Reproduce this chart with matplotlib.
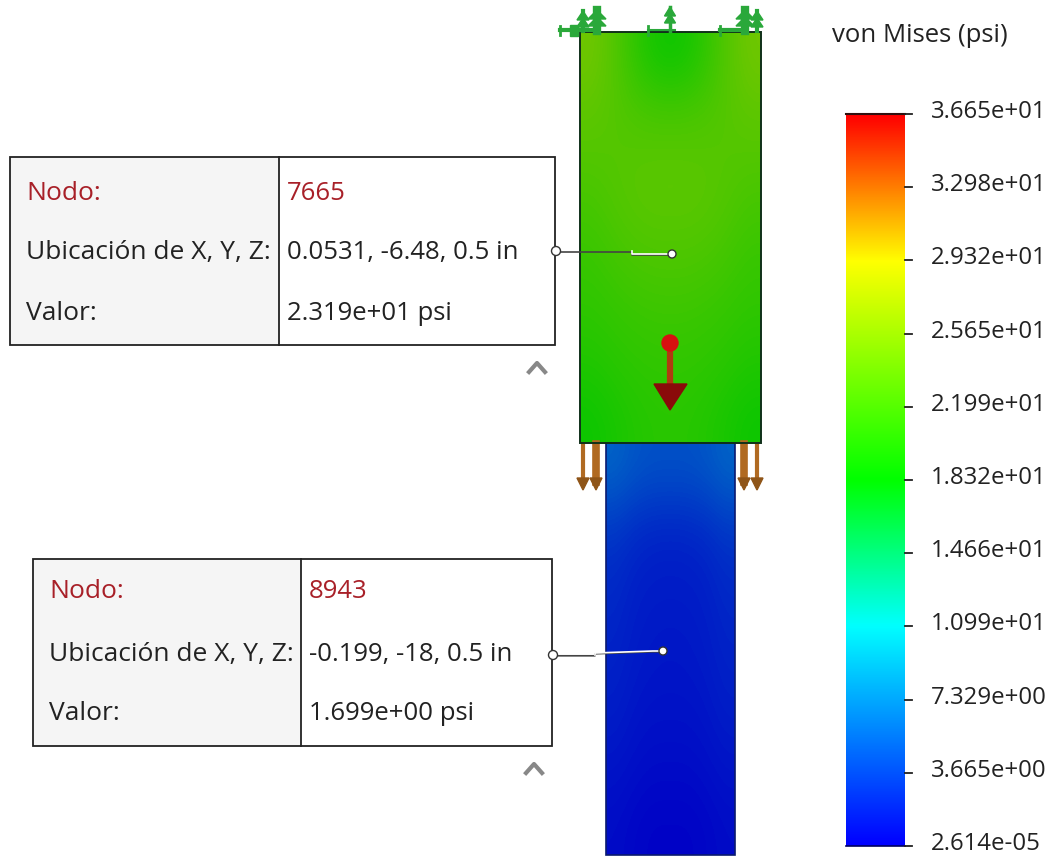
import numpy as np
import matplotlib
matplotlib.use("Agg")
import matplotlib.pyplot as plt
from matplotlib.colors import LinearSegmentedColormap
from matplotlib.patches import Rectangle, Polygon, Circle

plt.rcParams["font.family"] = ["Open Sans", "DejaVu Sans"]

titulo = "von Mises (psi)"
valores_barra = [36.65, 32.98, 29.32, 25.65, 21.99, 18.32, 14.66, 10.99, 7.329, 3.665, 0.00002614]
etiquetas_barra = ["3.665e+01", "3.298e+01", "2.932e+01", "2.565e+01", "2.199e+01", "1.832e+01",
                   "1.466e+01", "1.099e+01", "7.329e+00", "3.665e+00", "2.614e-05"]

# campo de tension (psi)
campo_superior = [
    [24.5, 22.5, 20.0, 18.9, 20.0, 22.5, 24.5],
    [23.5, 22.8, 22.2, 22.0, 22.2, 22.8, 23.5],
    [22.8, 23.0, 23.2, 23.3, 23.2, 23.0, 22.8],
    [22.0, 22.8, 23.2, 23.2, 23.2, 22.8, 22.0],
    [21.3, 22.0, 22.4, 22.5, 22.4, 22.0, 21.3],
    [20.8, 21.2, 21.5, 21.6, 21.5, 21.2, 20.8],
    [20.0, 20.6, 20.9, 21.0, 20.9, 20.6, 20.0],
    [19.0, 19.8, 20.4, 20.6, 20.4, 19.8, 19.0],
]
campo_inferior = [
    [5.5, 4.8, 4.5, 4.5, 4.5, 4.8, 5.5],
    [3.0, 2.4, 2.1, 2.0, 2.1, 2.4, 3.0],
    [2.3, 1.8, 1.6, 1.6, 1.6, 1.8, 2.3],
    [2.0, 1.6, 1.4, 1.3, 1.4, 1.6, 2.0],
    [1.7, 1.3, 1.1, 1.1, 1.1, 1.3, 1.7],
    [1.2, 0.9, 0.7, 0.7, 0.7, 0.9, 1.2],
    [0.7, 0.4, 0.2, 0.2, 0.2, 0.4, 0.7],
]

nodo_1 = ["Nodo:", "7665", "Ubicación de X, Y, Z:", "0.0531, -6.48, 0.5 in", "Valor:", "2.319e+01 psi"]
nodo_2 = ["Nodo:", "8943", "Ubicación de X, Y, Z:", "-0.199, -18, 0.5 in", "Valor:", "1.699e+00 psi"]

fig = plt.figure(figsize=(10.64, 8.59), dpi=100)
ax = fig.add_axes([0, 0, 1, 1])
ax.set_xlim(0, 1064)
ax.set_ylim(859, 0)
ax.axis("off")

cmap = LinearSegmentedColormap.from_list(
    "jet_sw",
    [(0, "#0000ff"), (0.3, "#00ffff"), (0.5, "#00ff00"), (0.8, "#ffff00"), (1, "#ff0000")],
)
# la pieza sale mas oscura que la barra por la luz
tonos = cmap(np.linspace(0, 1, 256))
tonos[:, :3] *= 0.78
cmap_pieza = LinearSegmentedColormap.from_list("jet_sombra", tonos)
vmax = valores_barra[0]

# viga superior e inferior
ax.imshow(campo_superior, cmap=cmap_pieza, vmin=0, vmax=vmax, extent=(580, 761, 443, 32),
          aspect="auto", interpolation="bicubic", zorder=1)
ax.imshow(campo_inferior, cmap=cmap_pieza, vmin=0, vmax=vmax, extent=(606, 735, 855, 443),
          aspect="auto", interpolation="bicubic", zorder=1)
ax.add_patch(Rectangle((580, 32), 181, 411, fill=False, ec="#10301a", lw=1.4, zorder=3))
ax.add_patch(Rectangle((606, 443), 129, 412, fill=False, ec="#0a1a70", lw=1.2, zorder=2))

# restricciones verdes arriba
verde = "#2aa83a"
for x, alto, grueso in [(583, 20, 3), (597, 21, 6), (670, 24, 2.5), (745, 21, 6), (757, 20, 3)]:
    ax.plot([x, x], [31, 31 - alto], color=verde, lw=grueso, zorder=4)
    for d in (3, 10):
        ax.add_patch(Polygon([(x - 3 - grueso, 31 - alto + d + 6), (x + 3 + grueso, 31 - alto + d + 6),
                              (x, 31 - alto + d - 3)], color=verde, zorder=4))
for x0, x1, grueso in [(560, 592, 3), (720, 742, 3), (648, 675, 1.5)]:
    ax.plot([x0, x1], [30, 30], color=verde, lw=grueso, zorder=4)
    ax.plot([x0, x0], [26, 35], color=verde, lw=2, zorder=4)
ax.add_patch(Rectangle((570, 25), 8, 11, color=verde, zorder=4))

# cargas marrones abajo
marron = "#b06a22"
for x, grueso in [(583, 3), (596, 5.5), (744, 5.5), (757, 3)]:
    ax.plot([x, x], [444, 482], color=marron, lw=grueso, zorder=2)
    ax.add_patch(Polygon([(x - 6, 478), (x + 6, 478), (x + 2, 486), (x, 490), (x - 2, 486)],
                         color="#8f5518", zorder=3))

# flecha de la fuerza
ax.plot([670, 670], [345, 385], color="#b03a10", lw=4.5, zorder=4)
ax.add_patch(Polygon([(654, 384), (687, 384), (670, 410)], color="#8a0a0a", zorder=5))
ax.add_patch(Circle((670, 343), 8, color="#d81010", zorder=5))

# barra de color
gradiente = np.linspace(vmax, 0, 256).reshape(-1, 1)
ax.imshow(gradiente, cmap=cmap, vmin=0, vmax=vmax, extent=(846, 905, 846, 114),
          aspect="auto", zorder=1)
ax.plot([846, 905], [114, 114], color="#301010", lw=1.5, zorder=2)
ax.plot([846, 905], [846, 846], color="#000060", lw=1.2, zorder=2)
ax.text(832, 36, titulo, fontsize=18.5, color="#222222", va="center", ha="left")
pos_y = np.linspace(114, 846, len(valores_barra))
for y, t in zip(pos_y, etiquetas_barra):
    ax.plot([905, 912], [y, y], color="#222222", lw=1.3, zorder=2)
    ax.text(931, y - 2, t, fontsize=17.3, color="#222222", va="center", ha="left")


def cuadro(x0, x1, xm, y0, y1, filas, fila_y, linea):
    ax.add_patch(Rectangle((x0, y0), xm - x0, y1 - y0, fc="#f5f5f5", ec="none", zorder=1))
    ax.add_patch(Rectangle((x0, y0), x1 - x0, y1 - y0, fill=False, ec="#222222", lw=1.3, zorder=2))
    ax.plot([xm, xm], [y0, y1], color="#222222", lw=1.3, zorder=2)
    for k, y in enumerate(fila_y):
        col = "#a82028" if k == 0 else "#222222"
        ax.text(x0 + 16, y, filas[2 * k], fontsize=19, color=col, va="center", ha="left")
        ax.text(xm + 8, y, filas[2 * k + 1], fontsize=18.5, color=col, va="center", ha="left")
    # linea de llamada: oscura con brillo blanco encima sobre la pieza
    xs = [p[0] for p in linea]
    ys = [p[1] for p in linea]
    ax.plot(xs, [y + 0.8 for y in ys], color="#444444", lw=1.2, zorder=4)
    ax.plot(xs[1:], ys[1:], color="white", lw=1.2, zorder=5)
    ax.add_patch(Circle(linea[0], 4.5, fc="white", ec="#333333", lw=1, zorder=6))
    ax.add_patch(Circle(linea[-1], 4, fc="white", ec="#333333", lw=1, zorder=6))
    # flechita de plegar
    ax.plot([x1 - 26, x1 - 18, x1 - 10], [y1 + 27, y1 + 18, y1 + 27], color="#888888", lw=3)


cuadro(10, 555, 279, 157, 345, nodo_1, [193, 252, 313],
       [(556, 251), (632, 251), (632, 254), (672, 254)])
cuadro(33, 552, 301, 559, 746, nodo_2, [592, 654, 714],
       [(553, 655), (595, 655), (595, 653), (653, 651), (663, 651)])

fig.savefig("out.png", dpi=100)
